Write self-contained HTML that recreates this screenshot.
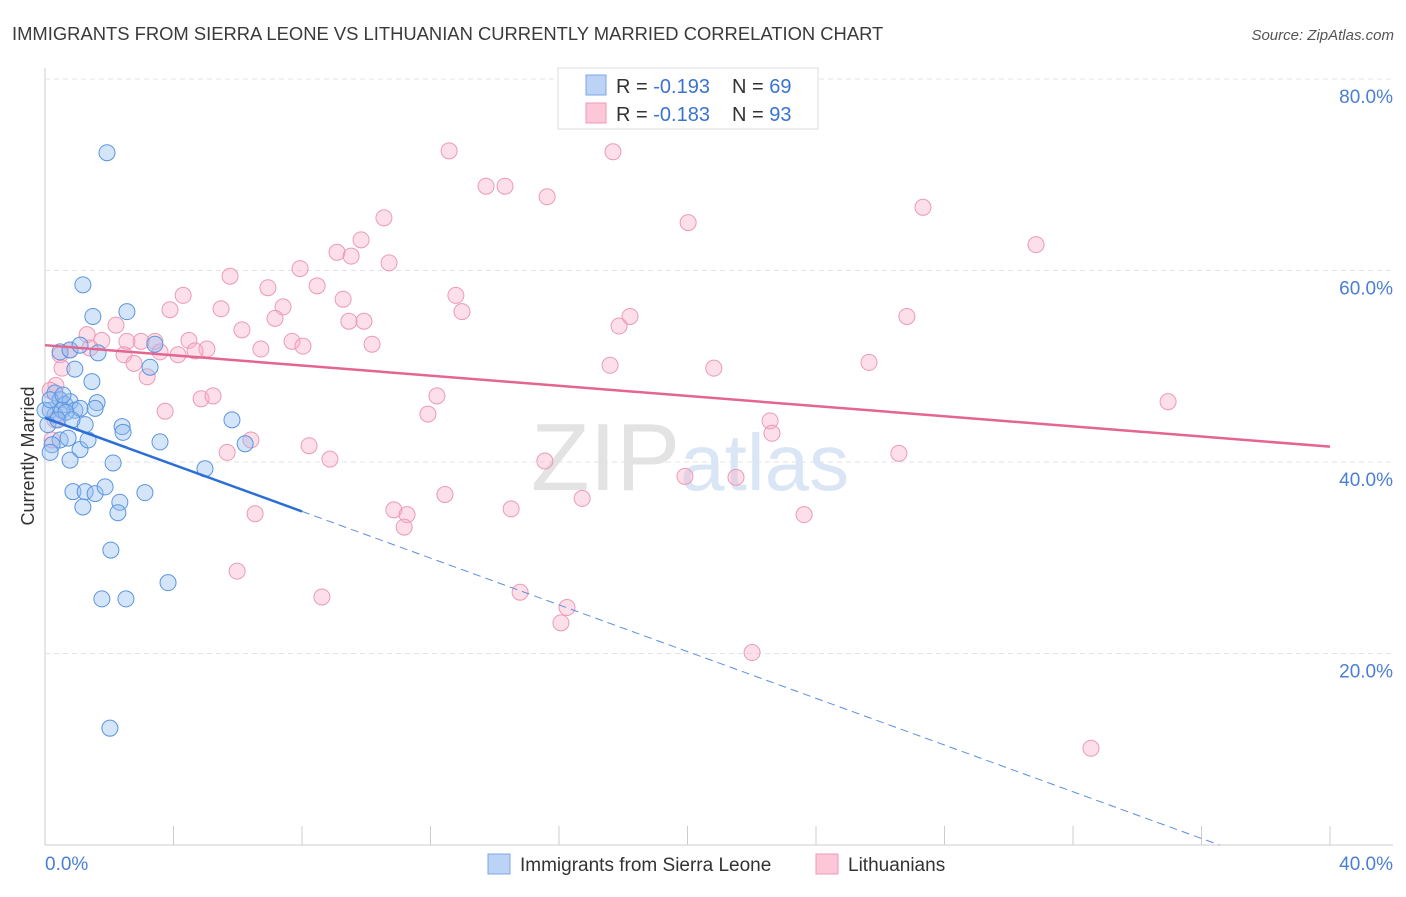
<!DOCTYPE html>
<html><head><meta charset="utf-8"><style>
body{margin:0;background:#fff;font-family:"Liberation Sans",sans-serif}
svg text{font-family:"Liberation Sans",sans-serif}
</style></head><body>
<svg width="1406" height="892" xmlns="http://www.w3.org/2000/svg">
<text x="12" y="40" font-size="18.4" fill="#3a3a3a">IMMIGRANTS FROM SIERRA LEONE VS LITHUANIAN CURRENTLY MARRIED CORRELATION CHART</text>
<text x="1394" y="40" font-size="15" fill="#555" text-anchor="end" font-style="italic">Source: ZipAtlas.com</text>
<g id="grid"></g>
<text x="690" y="490" font-size="96" fill="#e3e3e3" text-anchor="middle" font-family="Liberation Serif">ZIP<tspan fill="#dae6f5" font-family="Liberation Sans" font-size="80">atlas</tspan></text>
<g id="pts"></g>
<g id="trend"></g>
<text transform="translate(34,456) rotate(-90)" font-size="18" fill="#333" text-anchor="middle">Currently Married</text>
<g>
<rect x="558" y="68" width="260" height="61" fill="#fff" stroke="#ddd"/>
<rect x="586" y="75" width="20" height="20" fill="#bcd3f5" stroke="#7aa7e8"/>
<rect x="586" y="103" width="20" height="20" fill="#fcc8d8" stroke="#ef9ab6"/>
<text x="616" y="93" font-size="20" fill="#333">R = <tspan fill="#3b73d1">-0.193</tspan></text>
<text x="732" y="93" font-size="20" fill="#333">N = <tspan fill="#3b73d1">69</tspan></text>
<text x="616" y="121" font-size="20" fill="#333">R = <tspan fill="#3b73d1">-0.183</tspan></text>
<text x="732" y="121" font-size="20" fill="#333">N = <tspan fill="#3b73d1">93</tspan></text>
</g>
<g>
<rect x="488" y="854" width="22" height="20" fill="#bcd3f5" stroke="#7aa7e8"/>
<text x="520" y="871" font-size="19" fill="#333">Immigrants from Sierra Leone</text>
<rect x="816" y="854" width="22" height="20" fill="#fcc8d8" stroke="#ef9ab6"/>
<text x="848" y="871" font-size="19" fill="#333">Lithuanians</text>
</g>
</svg>
<script>
const yTicks=[20,40,60,80];
const yTickLabels=["20.0%","40.0%","60.0%","80.0%"];
const xTickLabels=["0.0%","40.0%"];
const blueX=[1.93,1.18,1.49,2.55,0.47,0.78,1.09,1.65,3.42,3.27,0.93,1.46,0.31,0.47,0.62,0.78,0.93,1.09,0.16,0.31,0.09,1.25,1.62,1.56,2.40,2.43,3.58,0.47,0.72,0.22,0.16,1.09,0.78,2.12,4.98,5.82,6.23,0.87,1.25,1.56,1.87,3.11,2.33,1.18,2.27,2.05,3.83,1.77,2.52,2.02,0.53,0.65,0.40,0.84,1.34,0.0,0.16,0.56];
const blueY=[72.3,58.5,55.2,55.7,51.5,51.7,52.2,51.4,52.3,49.9,49.7,48.4,47.2,46.5,46.0,46.3,45.4,45.6,45.4,44.9,43.9,43.9,46.2,45.6,43.7,43.1,42.1,42.3,42.5,41.8,41.0,41.3,40.2,39.9,39.3,44.4,41.9,36.9,36.9,36.7,37.4,36.8,35.8,35.3,34.7,30.8,27.4,25.7,25.7,12.2,45.4,45.2,44.4,44.4,42.3,45.4,46.5,47.0];
const pinkX=[12.58,17.68,13.73,14.32,15.63,10.55,20.02,27.33,30.85,9.09,9.53,9.84,10.71,5.76,7.94,6.94,4.30,8.47,9.28,12.79,3.89,5.48,7.41,7.16,12.98,18.21,26.83,6.13,9.93,9.46,17.87,1.31,2.21,4.48,7.69,8.03,10.18,3.42,2.99,2.55,1.77,5.04,6.72,4.14,3.58,4.67,2.46,2.77,3.18,17.59,20.82,25.65,0.47,0.53,0.34,0.16,3.74,4.86,5.23,12.20,11.92,34.96,22.57,22.63,6.41,5.67,8.22,8.87,15.56,19.92,21.51,26.58,12.45,16.72,10.86,11.27,11.18,14.51,23.63,6.54,5.98,8.62,14.79,16.25,16.06,22.01,32.56,0.47,0.31,0.22,0.78,1.40];
const pinkY=[72.5,72.4,68.8,68.8,67.7,65.5,65.0,66.6,62.7,61.9,61.5,63.2,60.8,59.4,60.2,58.2,57.4,58.4,57.0,57.4,55.9,56.0,56.2,55.0,55.7,55.2,55.2,53.8,54.7,54.7,54.2,53.3,54.3,52.7,52.6,52.1,52.3,52.6,52.6,52.6,52.7,51.8,51.8,51.2,51.5,51.6,51.2,50.3,48.9,50.1,49.8,50.4,51.2,49.8,48.0,47.5,45.3,46.6,46.9,46.9,45.0,46.3,44.3,43.0,42.3,41.0,41.7,40.3,40.1,38.5,38.4,40.9,36.6,36.2,35.0,34.5,33.2,35.1,34.5,34.6,28.6,25.9,26.4,24.8,23.2,20.1,10.1,46.5,44.4,42.3,51.7,51.9];
const blueTrend=[44.6,-1.22];
const pinkTrend=[52.2,-0.265];
const NS="http://www.w3.org/2000/svg";
const X0=45,X1=1330,Y0=845;
const sx=v=>X0+(v/40)*(X1-X0);
const sy=v=>Y0-v*(191.5/20);
function mk(t,a,p){const e=document.createElementNS(NS,t);for(const k in a)e.setAttribute(k,a[k]);p.appendChild(e);return e;}
const grid=document.getElementById('grid');
const ax=mk('line',{x1:X0,y1:68,x2:X0,y2:Y0,stroke:'#ccc'},grid);

const bx=mk('line',{x1:X0,y1:Y0,x2:1393,y2:Y0,stroke:'#ccc'},grid);

yTicks.forEach((t,i)=>{
 const g=mk('line',{x1:X0,y1:sy(t),x2:1393,y2:sy(t),stroke:'#e3e3e3','stroke-dasharray':'5,4'},grid);
 
 const l=mk('text',{x:1393,y:sy(t)+24,'font-size':19,fill:'#4a7fd4','text-anchor':'end'},grid);
 l.textContent=yTickLabels[i];
 
});
for(let i=0;i<=10;i++){
 const x=sx(i*4);
 const t=mk('line',{x1:x,y1:826,x2:x,y2:Y0,stroke:'#ccc'},grid);
 
}
[[0,'start',45],[1,'end',1393]].forEach(([i,anc,x])=>{
 const l=mk('text',{x:x,y:870,'font-size':19,fill:'#4a7fd4','text-anchor':anc},grid);
 l.textContent=xTickLabels[i];
 
});
const pts=document.getElementById('pts');
pinkX.forEach((v,i)=>{const c=mk('circle',{cx:sx(v),cy:sy(pinkY[i]),r:8,fill:'rgba(248,176,200,0.4)',stroke:'#ec9ab6','stroke-width':1},pts);
});
blueX.forEach((v,i)=>{const c=mk('circle',{cx:sx(v),cy:sy(blueY[i]),r:8,fill:'rgba(150,190,240,0.4)',stroke:'#5b95e0','stroke-width':1},pts);
});
const tr=document.getElementById('trend');
const pl=mk('line',{x1:sx(0),y1:sy(pinkTrend[0]),x2:sx(40),y2:sy(pinkTrend[0]+pinkTrend[1]*40),stroke:'#e46590','stroke-width':2.5},tr);

const bs=mk('line',{x1:sx(0),y1:sy(blueTrend[0]),x2:sx(8),y2:sy(blueTrend[0]+blueTrend[1]*8),stroke:'#2b6fd6','stroke-width':2.5},tr);

const xe=-blueTrend[0]/blueTrend[1];
const bd=mk('line',{x1:sx(8),y1:sy(blueTrend[0]+blueTrend[1]*8),x2:sx(xe),y2:sy(0),stroke:'#5b8fe0','stroke-width':1,'stroke-dasharray':'8,5'},tr);

</script>
</body></html>
